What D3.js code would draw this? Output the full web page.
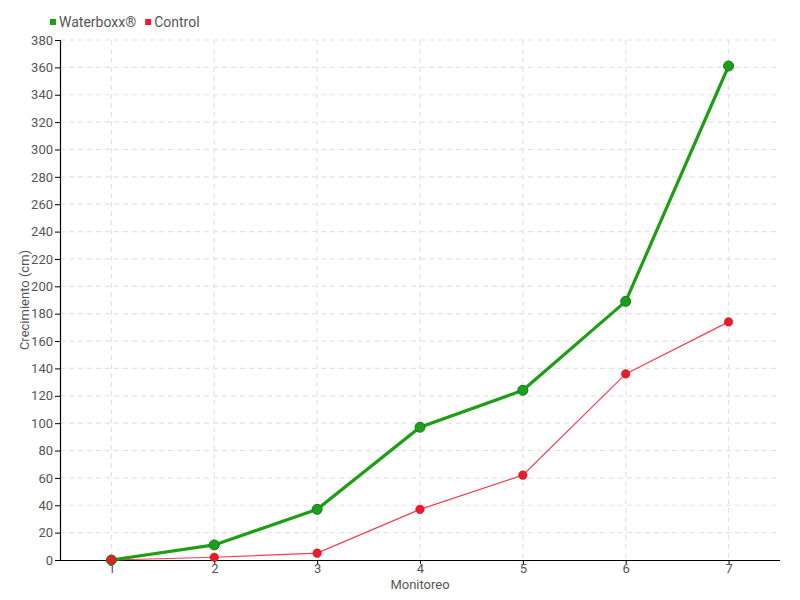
<!DOCTYPE html>
<html><head><meta charset="utf-8">
<script src="https://cdn.jsdelivr.net/npm/d3@7"></script>
<style>
body{margin:0;background:#fff;}
text{font-family:"Roboto","Liberation Sans",sans-serif;fill:#555;}
</style></head><body>
<svg id="chart" width="800" height="600"></svg>
<script>
const categories = ["1","2","3","4","5","6","7"];
const waterboxx = [0, 11, 37, 97, 124, 189, 361];
const control = [0, 2, 5, 37, 62, 136, 174];
const yTicks = d3.range(0, 381, 20);
const seriesNames = ["Waterboxx®", "Control"];

const svg = d3.select("#chart");
const L = 60, R = 780, T = 40, B = 560;
const x = d3.scalePoint().domain(categories).range([L, R]).padding(0.5);
const y = d3.scaleLinear().domain([0, 380]).range([B, T]);

// grid
const g = svg.append("g");
g.selectAll("line.h").data(yTicks.filter(d=>d>0)).enter().append("line")
  .attr("x1", L).attr("x2", R).attr("y1", d=>y(d)).attr("y2", d=>y(d))
  .attr("stroke", "#e3e3e3").attr("stroke-dasharray", "5,4").attr("stroke-width", 1.2);
g.selectAll("line.v").data(categories).enter().append("line")
  .attr("x1", d=>x(d)).attr("x2", d=>x(d)).attr("y1", T).attr("y2", B)
  .attr("stroke", "#e3e3e3").attr("stroke-dasharray", "5,4").attr("stroke-width", 1.2);

// axes
const yAxis = svg.append("g").attr("transform", `translate(${L},0)`)
  .call(d3.axisLeft(y).tickValues(yTicks).tickSize(5).tickPadding(2));
const xAxis = svg.append("g").attr("transform", `translate(0,${B})`)
  .call(d3.axisBottom(x).tickSize(4).tickPadding(0));
[yAxis, xAxis].forEach(a => {
  a.selectAll("path").attr("stroke", "#000").attr("stroke-width", 1.2);
  a.selectAll("line").attr("stroke", "#000");
  a.selectAll("text").attr("font-size", 13).style("fill", "#555");
});
xAxis.select(".domain").attr("d", `M${L},0.5H${R}`);

// lines
const line = d3.line().x((d,i)=>x(categories[i])).y(d=>y(d));
svg.append("path").datum(control).attr("d", line).attr("fill","none")
  .attr("stroke","#f0404f").attr("stroke-width",1.2);
svg.append("path").datum(waterboxx).attr("d", line).attr("fill","none")
  .attr("stroke","#1e9e14").attr("stroke-width",3.2);
svg.selectAll("circle.w").data(waterboxx).enter().append("circle")
  .attr("cx",(d,i)=>x(categories[i])).attr("cy",d=>y(d)).attr("r",5)
  .attr("fill","#1e9e1e").attr("stroke","#137a13").attr("stroke-width",1);
svg.selectAll("circle.c").data(control).enter().append("circle")
  .attr("cx",(d,i)=>x(categories[i])).attr("cy",d=>y(d)).attr("r",4.3)
  .attr("fill","#e81c2c").attr("stroke","#d01020").attr("stroke-width",0.5);

// labels
svg.append("text").attr("x", 420).attr("y", 589).attr("text-anchor","middle")
  .attr("font-size", 13).text("Monitoreo");
svg.append("text").attr("transform","translate(29,300) rotate(-90)").attr("text-anchor","middle")
  .attr("font-size", 13).text("Crecimiento (cm)");

// legend
const colors = ["#1e9e14", "#f0182e"];
const lg = svg.append("g");
let lx = 50;
seriesNames.forEach((n,i)=>{
  lg.append("rect").attr("x", lx).attr("y", 19).attr("width", 6).attr("height", 6).attr("fill", colors[i]);
  const t = lg.append("text").attr("x", lx+9).attr("y", 27).attr("font-size", 14).text(n);
  lx += 9 + t.node().getComputedTextLength() + 9;
});
</script></body></html>
